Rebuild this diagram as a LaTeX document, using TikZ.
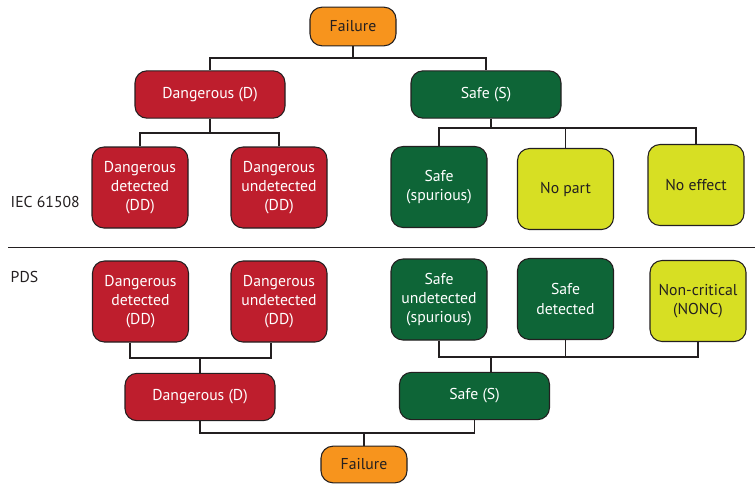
\documentclass[tikz,border=0pt]{standalone}
\usepackage{fontspec}
\setmainfont{PT Sans}
\usepackage{xcolor}
\usepackage{tikz}
\usetikzlibrary{positioning}

\definecolor{failorange}{HTML}{F7941D}
\definecolor{dangred}{HTML}{BE1E2D}
\definecolor{safegreen}{HTML}{0E6537}
\definecolor{lime}{HTML}{D7DF23}
\definecolor{ink}{HTML}{231F20}

\begin{document}
\begin{tikzpicture}[
        x=0.75pt, y=-0.75pt,
        base/.style={draw=ink, line width=0.8pt, align=center, inner sep=0pt, rounded corners=9pt, font=\fontsize{11.8}{14.4}\selectfont},
        failure/.style={base, fill=failorange, text=ink, minimum width=64.5pt, minimum height=29pt},
        wide/.style={base, minimum width=112.5pt, minimum height=35.5pt},
        small/.style={base, minimum width=72pt, minimum height=60.75pt},
        dang/.style={fill=dangred, text=white},
        safe/.style={fill=safegreen, text=white},
        minor/.style={fill=lime, text=ink},
        label/.style={anchor=west, text=ink, font=\fontsize{11.8}{14.4}\selectfont},
        link/.style={draw=ink, line width=0.8pt}
    ]
    \useasboundingbox (0,0) rectangle (755,483);

    % IEC 61508
    \node (fail1) at (353,26.5) [failure] {Failure};
    \node (dang1) at (210,94.5) [wide, dang] {Dangerous (D)};
    \node (safe1) at (486,94.5) [wide, safe] {Safe (S)};

    \node (dd1) at (140,187.5) [small, dang] {Dangerous\\detected\\(DD)};
    \node (du1) at (279,187.5) [small, dang] {Dangerous\\undetected\\(DD)};
    \node (ss1) at (439,187) [small, safe] {Safe\\(spurious)};
    \node (np1) at (565.5,189) [small, minor] {No part};
    \node (ne1) at (696,185) [small, minor] {No effect};

    \node (iec) at (6,202) [label] {IEC 61508};

    % separator
    \coordinate (sepl) at (8,247.5);
    \coordinate (sepr) at (755,247.5);
    \draw [link] (sepl) -- (sepr);

    % PDS
    \node (pds) at (6,277) [label] {PDS};

    \node (pdd) at (140.5,301.5) [small, dang] {Dangerous\\detected\\(DD)};
    \node (pdu) at (279,301.5) [small, dang] {Dangerous\\undetected\\(DD)};
    \node (psu) at (439,299.5) [small, safe] {Safe\\undetected\\(spurious)};
    \node (psd) at (565.5,299) [small, safe] {Safe\\detected};
    \node (pnc) at (698,301) [small, minor] {Non-critical\\(NONC)};

    \node (dang2) at (200,397) [wide, dang] {Dangerous (D)};
    \node (safe2) at (474.5,396) [wide, safe] {Safe (S)};
    \node (fail2) at (364,464.5) [failure, minimum height=27.5pt] {Failure};

    % junctions
    \coordinate (t1) at (353,58);
    \coordinate (t2) at (210,133);
    \coordinate (t3) at (491,128);
    \coordinate (b1l) at (130,358);
    \coordinate (b1) at (200,358);
    \coordinate (b1r) at (271,358);
    \coordinate (b2) at (491,357);
    \coordinate (b3) at (364,433);

    % top tree
    \draw [link] (fail1.south) -- (t1);
    \draw [link] (dang1.north) |- (t1) -| (safe1.north);
    \draw [link] (dang1.south) -- (t2);
    \draw [link] (dd1.north) |- (t2) -| (du1.north);
    \draw [link] (safe1.south -| t3) -- (t3);
    \draw [link] (ss1.north) |- (t3) -| (ne1.north);
    \draw [link] (np1.north) -- (np1.north |- t3);

    % bottom tree
    \draw [link] (pdd.south -| b1l) -- (b1l) -- (b1r) -- (pdu.south -| b1r);
    \draw [link] (b1) -- (dang2.north);
    \draw [link] (psu.south) |- (b2) -| (pnc.south);
    \draw [link] (psd.south) -- (psd.south |- b2);
    \draw [link] (b2) -- (safe2.north -| b2);
    \draw [link] (dang2.south) |- (b3) -| (safe2.south);
    \draw [link] (b3) -- (fail2.north);

\end{tikzpicture}
\end{document}
